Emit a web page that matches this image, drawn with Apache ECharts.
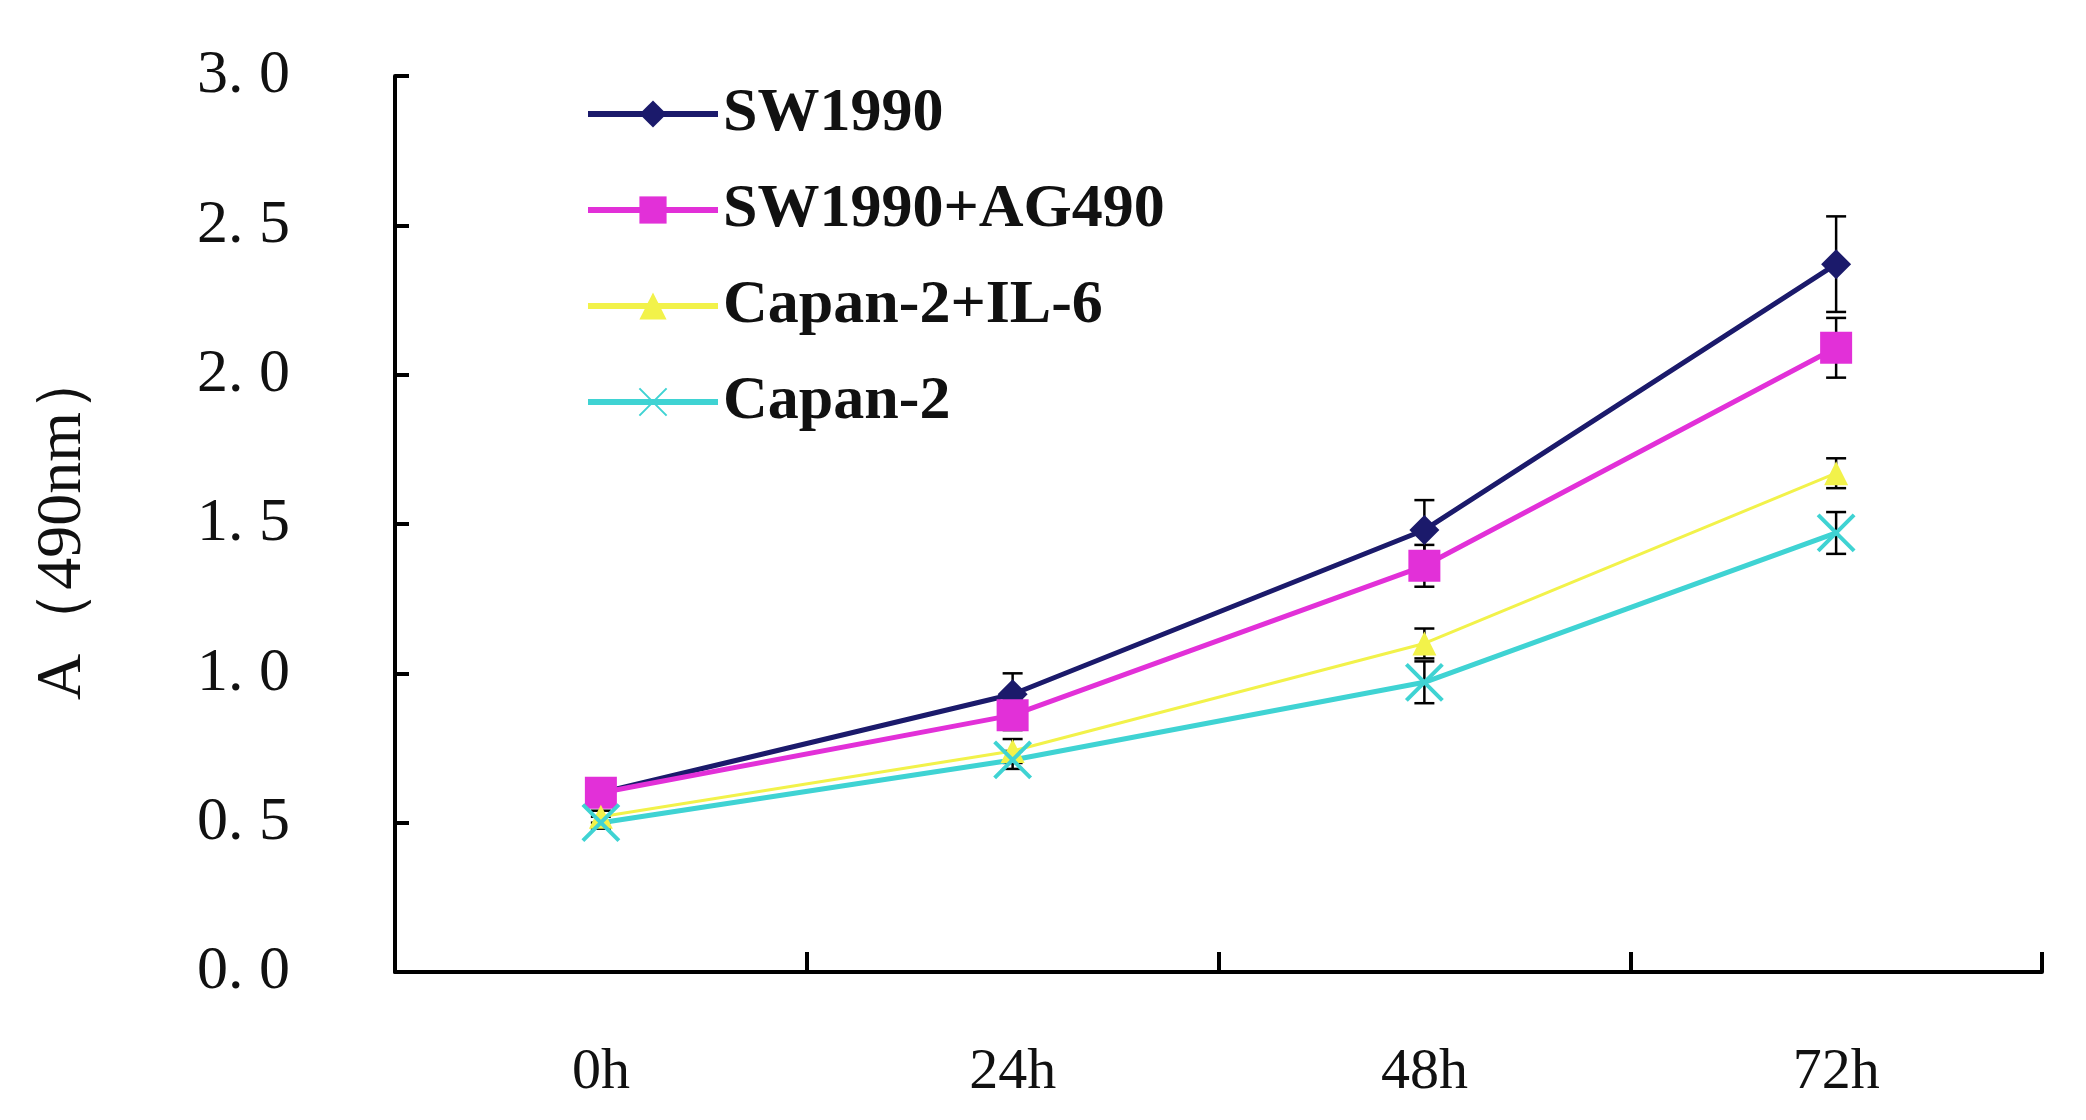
<!DOCTYPE html>
<html><head><meta charset="utf-8">
<script src="https://cdn.jsdelivr.net/npm/echarts@6/dist/echarts.min.js"></script>
<style>html,body{margin:0;background:#fff}#c{width:2086px;height:1120px}</style>
</head><body><div id="c"></div>
<script>
const categories = ['0h', '24h', '48h', '72h'];
const seriesNames = ['SW1990', 'SW1990+AG490', 'Capan-2+IL-6', 'Capan-2'];
const sw1990 = [0.60, 0.93, 1.48, 2.37];
const sw1990Err = [0.03, 0.07, 0.10, 0.16];
const ag490 = [0.60, 0.86, 1.36, 2.09];
const ag490Err = [0.03, 0.05, 0.07, 0.10];
const il6 = [0.52, 0.74, 1.10, 1.67];
const il6Err = [0.02, 0.04, 0.05, 0.05];
const capan2 = [0.50, 0.71, 0.97, 1.47];
const capan2Err = [0.02, 0.03, 0.07, 0.07];
const yTicks = [0, 0.5, 1.0, 1.5, 2.0, 2.5, 3.0];

const colors = ['#1b1a6b', '#e230d8', '#f2f24a', '#3fd3d3'];
const symbols = ['diamond', 'rect', 'triangle', 'path://M0,0L10,10M10,0L0,10'];
const sizes = [30, 32, 24, 36];
const widths = [5, 5, 3, 5];
const values = [sw1990, ag490, il6, capan2];
const errors = [sw1990Err, ag490Err, il6Err, capan2Err];

const font = '"Liberation Serif", "DejaVu Serif", serif';
const chart = echarts.init(document.getElementById('c'));

const lineSeries = values.map((v, i) => ({
  name: seriesNames[i], type: 'line', data: v, z: 3,
  symbol: symbols[i], symbolSize: sizes[i],
  lineStyle: { width: widths[i], color: colors[i] },
  itemStyle: { color: colors[i], borderColor: colors[i], borderWidth: i === 3 ? 4 : 0 }
}));

const errSeries = values.map((v, i) => ({
  type: 'custom', z: 2, silent: true,
  data: v.map((y, k) => [k, y - errors[i][k], y + errors[i][k]]),
  renderItem(params, api) {
    const lo = api.coord([api.value(0), api.value(1)]);
    const hi = api.coord([api.value(0), api.value(2)]);
    const w = 10;
    const st = { stroke: '#000', lineWidth: 2.5 };
    return { type: 'group', children: [
      { type: 'line', shape: { x1: lo[0], y1: lo[1], x2: hi[0], y2: hi[1] }, style: st },
      { type: 'line', shape: { x1: lo[0] - w, y1: lo[1], x2: lo[0] + w, y2: lo[1] }, style: st },
      { type: 'line', shape: { x1: hi[0] - w, y1: hi[1], x2: hi[0] + w, y2: hi[1] }, style: st }
    ]};
  }
}));

chart.setOption({
  animation: false,
  grid: { left: 395, right: 44, top: 76, bottom: 148 },
  legend: {
    data: seriesNames, orient: 'vertical', left: 580, top: 78,
    itemWidth: 130, itemHeight: 34, itemGap: 34,
    lineStyle: { width: 6 },
    textStyle: { fontFamily: font, fontWeight: 'bold', fontSize: 62, color: '#111' }
  },
  xAxis: {
    type: 'category', data: categories, boundaryGap: true,
    axisLine: { lineStyle: { color: '#000', width: 4 } },
    axisTick: { show: true, inside: true, length: 20, lineStyle: { color: '#000', width: 4 } },
    axisLabel: { fontFamily: font, fontSize: 58, color: '#111', margin: 72 }
  },
  yAxis: {
    type: 'value', min: 0, max: 3, interval: 0.5,
    name: 'A（490nm）', nameLocation: 'middle', nameGap: 300, nameRotate: 90,
    nameTextStyle: { fontFamily: font, fontSize: 64, color: '#111' },
    splitLine: { show: false },
    axisLine: { show: true, lineStyle: { color: '#000', width: 4 } },
    axisTick: { show: true, inside: true, length: 14, lineStyle: { color: '#000', width: 4 } },
    axisLabel: {
      fontFamily: font, fontSize: 62, color: '#111', margin: 105,
      formatter: v => yTicks.includes(v) ? v.toFixed(1).replace('.', '. ') : ''
    }
  },
  series: [...errSeries, ...lineSeries]
});
</script></body></html>
